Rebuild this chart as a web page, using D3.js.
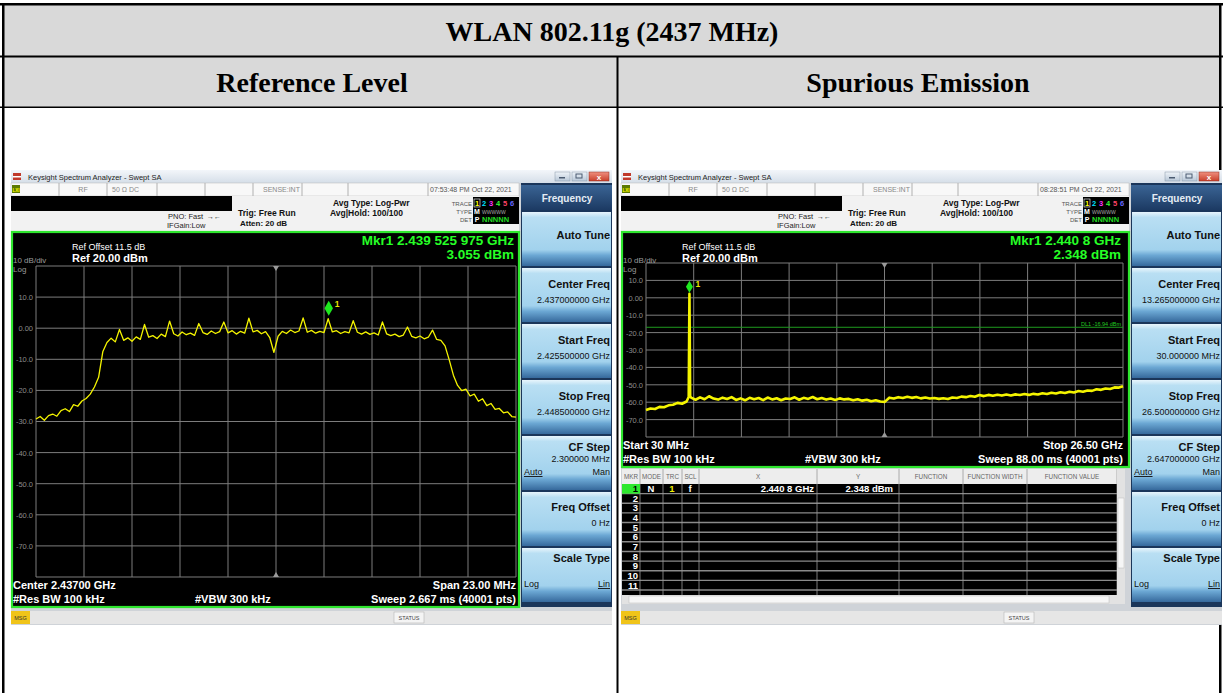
<!DOCTYPE html>
<html>
<head>
<meta charset="utf-8">
<script src="https://cdn.jsdelivr.net/npm/d3@7"></script>
<style>
  body { margin: 0; background: #fff; }
  svg { display: block; font-family: "Liberation Sans", Arial, sans-serif; }
</style>
</head>
<body>
<svg width="1223" height="693"></svg>
<script>
const refStartMHz = 2425.5;
const refStopMHz = 2448.5;
const refStepMHz = 0.2;
const refLevel = [
  -29.2, -28.4, -29.6, -28.1, -27.6, -28.3, -26.5, -25.9, -26.8, -24.6,
  -25.1, -23.4, -22.6, -21.2, -18.9, -15.8, -7.6, -4.6, -3.2, -4.4,
  -0.4, -3.9, -3.1, -4.2, -2.8, -3.6, 1.2, -2.9, -2.4, -3.3,
  -1.9, -2.7, 2.3, -1.8, -2.5, -1.2, -2.1, -1.6, -2.3, 1.5,
  -1.4, -2.0, -0.9, -1.7, -1.1, 2.0, -1.5, -0.8, -1.9, -1.0,
  -1.6, 3.2, -1.2, -0.7, -1.8, -1.1, -3.0, -7.8, -2.6, -1.0,
  -1.7, -0.6, -1.4, -0.9, 3.3, -1.3, -0.7, -1.6, -1.0, -1.4,
  3.05, -1.2, -0.8, -1.7, -1.1, -1.5, 2.4, -1.3, -1.9, -1.2,
  -2.0, -1.5, -2.2, 2.0, -1.8, -2.4, -1.9, -2.7, -2.2, 0.4,
  -2.6, -3.1, -2.5, -3.4, -2.9, -0.6, -3.6, -3.9, -5.7, -10.2,
  -15.1, -18.4, -20.1, -19.6, -21.8, -21.2, -23.5, -22.7, -24.9, -24.2,
  -26.1, -25.8, -27.2, -26.9, -28.4, -28.6
];
const refMarker = { freq: 2439.525975, level: 3.055 };

const spurStartGHz = 0.03;
const spurStopGHz = 26.5;
const spurStepGHz = 0.25;
const spurLevel = [
  -64.5, -63.6, -63.9, -62.7, -62.9, -61.8, -61.5, -60.4, -60.9, -59.6,
  -57.4, -58.6, -57.2, -58.3, -56.6, -57.9, -58.5, -57.4, -58.2, -57.1,
  -58.7, -57.8, -58.9, -57.5, -58.3, -57.6, -58.8, -57.3, -58.4, -57.7,
  -58.9, -57.9, -58.2, -57.2, -58.6, -57.5, -58.1, -57.0, -58.3, -57.6,
  -58.5, -57.9, -58.7, -57.8, -58.4, -58.1, -58.9, -58.3, -59.1, -58.6,
  -59.4, -58.9, -59.6, -59.8, -57.4, -57.9, -57.1, -57.6, -56.9, -57.5,
  -57.0, -57.8, -57.3, -57.9, -57.6, -58.1, -57.7, -58.2, -57.3, -57.6,
  -56.8, -57.1, -56.4, -56.9, -55.9, -56.5, -55.8, -56.3, -55.7, -56.2,
  -55.6, -56.1, -55.5, -55.9, -55.3, -55.8, -55.2, -55.6, -54.9, -55.3,
  -54.6, -55.0, -54.3, -54.7, -54.0, -54.4, -53.6, -54.0, -53.3, -53.5,
  -52.6, -52.9, -52.1, -52.4, -51.5, -51.6, -50.8
];
const spurPeakFreq = [2.40, 2.4408, 2.48];
const spurPeakLevel = [-57.0, 2.348, -56.5];
const spurMarker = { freq: 2.4408, level: 2.348 };
const displayLine = -16.94;

const levelTicks = [10, 0, -10, -20, -30, -40, -50, -60, -70];
const levelLabels = ["10.0", "0.00", "-10.0", "-20.0", "-30.0", "-40.0", "-50.0", "-60.0", "-70.0"];
const markerRows = ["1", "2", "3", "4", "5", "6", "7", "8", "9", "10", "11"];
const markerCols = ["MKR", "MODE", "TRC", "SCL", "X", "Y", "FUNCTION", "FUNCTION WIDTH", "FUNCTION VALUE"];

let svg = d3.select("svg");

// gradients
let defs = svg.append("defs");
function grad(id, stops) {
  let lg = defs.append("linearGradient").attr("id", id).attr("x1", 0).attr("y1", 0).attr("x2", 0).attr("y2", 1);
  stops.forEach(s => lg.append("stop").attr("offset", s[0]).attr("stop-color", s[1]));
}
grad("titleGrad", [[0, "#f3f6fa"], [1, "#d5dee8"]]);
grad("btnGrad", [[0, "#e8f5fc"], [0.1, "#b9dff3"], [0.7, "#a2d2ed"], [0.8, "#6ca8d4"], [1, "#36699c"]]);
grad("hdrGrad", [[0, "#3a6494"], [1, "#1c3a63"]]);
grad("closeGrad", [[0, "#f09080"], [1, "#c8402c"]]);
grad("winBtnGrad", [[0, "#eef3f8"], [1, "#b9c8d8"]]);

function txt(g, x, y, s, size, fill, opt = {}) {
  return g.append("text")
    .attr("x", x).attr("y", y).text(s)
    .attr("font-size", size).attr("fill", fill)
    .attr("font-weight", opt.bold ? "bold" : null)
    .attr("text-anchor", opt.anchor || "start")
    .attr("font-family", opt.family || null)
    .attr("text-decoration", opt.u ? "underline" : null);
}
function box(g, x, y, w, h, fill) {
  return g.append("rect").attr("x", x).attr("y", y).attr("width", w).attr("height", h).attr("fill", fill);
}

// ---- table ----
const headFill = "#d9d9d9";
const serif = "Liberation Serif, Times New Roman, serif";
box(svg, 4, 5, 1216, 51, headFill);
box(svg, 4, 57, 1216, 50, headFill);
[[0, 3, 1223, 2.5], [0, 55.5, 1223, 2], [0, 106.5, 1223, 1.5], [2, 3, 2.5, 690], [1219, 3, 2.5, 690], [616.5, 57, 2, 636]]
  .forEach(r => box(svg, r[0], r[1], r[2], r[3], "#000"));
txt(svg, 612, 41, "WLAN 802.11g (2437 MHz)", 28, "#000", { bold: true, anchor: "middle", family: serif });
txt(svg, 312, 92, "Reference Level", 28, "#000", { bold: true, anchor: "middle", family: serif });
txt(svg, 918, 92, "Spurious Emission", 28, "#000", { bold: true, anchor: "middle", family: serif });

// ---- one analyzer screenshot ----
function drawAnalyzer(ox, cfg) {
  let g = svg.append("g").attr("transform", `translate(${ox},170)`);
  box(g, 0, 0, 601, 455, "#cfd3d8");

  // window title bar
  box(g, 0, 0, 601, 13, "url(#titleGrad)");
  box(g, 2, 3, 8, 7, "#c0392b");
  box(g, 2, 6, 8, 1.5, "#fff");
  txt(g, 17, 9.5, "Keysight Spectrum Analyzer - Swept SA", 7.5, "#222");
  box(g, 544, 2, 15, 9, "url(#winBtnGrad)").attr("stroke", "#8797a8").attr("stroke-width", 0.5);
  box(g, 561, 2, 15, 9, "url(#winBtnGrad)").attr("stroke", "#8797a8").attr("stroke-width", 0.5);
  box(g, 578, 2, 20, 9, "url(#closeGrad)").attr("stroke", "#8a2a1e").attr("stroke-width", 0.5);
  box(g, 548, 7, 6, 1.5, "#4a5a70");
  box(g, 565, 4, 6, 4, "none").attr("stroke", "#4a5a70").attr("stroke-width", 1);
  txt(g, 588, 9.5, "x", 8, "#fff", { bold: true, anchor: "middle" });

  // status row
  box(g, 0, 13, 508, 13, "#f8f8f8").attr("stroke", "#b8b8b8").attr("stroke-width", 0.5);
  [48, 96, 146, 194, 242, 291, 337, 417].forEach(x =>
    g.append("line").attr("x1", x).attr("x2", x).attr("y1", 13).attr("y2", 26).attr("stroke", "#b0b0b0"));
  box(g, 1, 15, 8, 8, "#5d7a00");
  txt(g, 5, 21.5, "LXI", 4.5, "#ff0", { anchor: "middle", bold: true });
  txt(g, 72, 22, "RF", 7, "#888", { anchor: "middle" });
  txt(g, 101, 22, "50 \u03a9   DC", 7, "#888");
  txt(g, 252, 22, "SENSE:INT", 7, "#888");
  txt(g, 419, 22, cfg.time, 7, "#555");

  // info area
  box(g, 0, 26, 508, 36, "#f2f2f2");
  box(g, 0, 26, 221, 15, "#000");
  txt(g, 157, 49, "PNO: Fast", 7.5, "#222");
  txt(g, 196, 49, "\u2192\u2190", 7, "#222");
  txt(g, 156, 58, "IFGain:Low", 7.5, "#222");
  txt(g, 227, 46, "Trig: Free Run", 8.5, "#111", { bold: true });
  txt(g, 229, 56, "Atten: 20 dB", 8, "#111", { bold: true });
  txt(g, 322, 36, "Avg Type: Log-Pwr", 8.5, "#111", { bold: true });
  txt(g, 319, 46, "Avg|Hold: 100/100", 8.5, "#111", { bold: true });
  txt(g, 461, 36, "TRACE", 6, "#555", { anchor: "end" });
  txt(g, 461, 44, "TYPE", 6, "#555", { anchor: "end" });
  txt(g, 461, 52, "DET", 6, "#555", { anchor: "end" });
  box(g, 462, 27, 46, 27, "#000");
  const traceColors = ["#ffff00", "#00e5ff", "#ff33ff", "#33ff33", "#ff4466", "#6666ff"];
  traceColors.forEach((c, i) => txt(g, 466 + i * 7, 36, String(i + 1), 7.5, c, { bold: true, anchor: "middle" }));
  g.append("rect").attr("x", 463).attr("y", 29).attr("width", 6).attr("height", 8).attr("fill", "none").attr("stroke", "#fff").attr("stroke-width", 0.6);
  txt(g, 466, 44, "M", 7, "#fff", { bold: true, anchor: "middle" });
  txt(g, 471, 44, "WWWWW", 5, "#aaa");
  txt(g, 466, 52, "P", 7, "#fff", { bold: true, anchor: "middle" });
  txt(g, 471, 52, "NNNNN", 7.5, "#22dd22", { bold: true });

  // display panel
  box(g, 1, 62, 507, cfg.panelBottom - 62, "#000").attr("stroke", "#2ee62e").attr("stroke-width", 2.2);

  let x = d3.scaleLinear().domain(cfg.domain).range([25, cfg.gridRight]);
  let y = d3.scaleLinear().domain([20, -80]).range([cfg.gridTop, cfg.gridBottom]);
  let plot = g.append("g");

  // graticule
  let xDiv = d3.range(11).map(i => cfg.domain[0] + i * (cfg.domain[1] - cfg.domain[0]) / 10);
  plot.selectAll(".vgrid").data(xDiv).enter().append("line")
    .attr("x1", d => x(d)).attr("x2", d => x(d))
    .attr("y1", y(20)).attr("y2", y(-80))
    .attr("stroke", "#7d7d7d").attr("stroke-width", 1);
  plot.selectAll(".hgrid").data(d3.range(20, -81, -10)).enter().append("line")
    .attr("x1", x(cfg.domain[0])).attr("x2", x(cfg.domain[1]))
    .attr("y1", d => y(d)).attr("y2", d => y(d))
    .attr("stroke", "#7d7d7d").attr("stroke-width", 1);

  let yAxis = d3.axisLeft(y).tickValues(levelTicks)
    .tickFormat((d, i) => levelLabels[i]).tickSize(0).tickPadding(3);
  let ya = plot.append("g").attr("transform", `translate(25,0)`).call(yAxis);
  ya.select(".domain").remove();
  ya.selectAll("text").attr("fill", "#8c8c8c").attr("font-size", 7.5).attr("font-family", "Liberation Sans, Arial, sans-serif");

  // center markers
  let cx = x((cfg.domain[0] + cfg.domain[1]) / 2);
  plot.append("path").attr("d", `M${cx - 3},${y(20)} L${cx + 3},${y(20)} L${cx},${y(20) + 5}Z`).attr("fill", "#9a9a9a");
  plot.append("path").attr("d", `M${cx - 3},${y(-80)} L${cx + 3},${y(-80)} L${cx},${y(-80) - 5}Z`).attr("fill", "#9a9a9a");

  // display line
  if (cfg.dl !== undefined) {
    plot.append("line").attr("x1", 25).attr("x2", cfg.gridRight)
      .attr("y1", y(cfg.dl)).attr("y2", y(cfg.dl)).attr("stroke", "#1f9a1f").attr("stroke-width", 1);
    txt(plot, cfg.gridRight - 2, y(cfg.dl) - 1.5, "DL1 -16.94 dBm", 5.5, "#22c822", { anchor: "end" });
  }

  // trace
  let line = d3.line().x(d => x(d[0])).y(d => y(d[1]));
  plot.append("path").datum(cfg.trace).attr("d", line)
    .attr("fill", "none").attr("stroke", "#f4f400").attr("stroke-width", cfg.traceWidth)
    .attr("stroke-linejoin", "round");

  // marker
  let mx = x(cfg.marker.freq), my = y(cfg.marker.level) - cfg.markerGap;
  let mh = cfg.markerH, mw = cfg.markerW;
  plot.append("path")
    .attr("d", `M${mx},${my - mh} L${mx + mw / 2},${my - mh / 2} L${mx},${my} L${mx - mw / 2},${my - mh / 2}Z`)
    .attr("fill", "#1ee81e");
  txt(plot, mx + 6, my - mh + 6, "1", 8.5, "#e8e800", { bold: true });

  // text in panel
  txt(g, 61, 80, "Ref Offset 11.5 dB", 9, "#fff");
  txt(g, 61, 92, "Ref 20.00 dBm", 11, "#fff", { bold: true });
  txt(g, 2, 92.5, "10 dB/div", 8, "#9a9a9a");
  txt(g, 2, 101.5, "Log", 8, "#9a9a9a");
  txt(g, cfg.gridRight - 2, 75, cfg.mkrFreq, 13.5, "#26ff26", { bold: true, anchor: "end" });
  txt(g, cfg.gridRight - 2, 89, cfg.mkrLevel, 13.5, "#26ff26", { bold: true, anchor: "end" });
  cfg.bottomText.forEach(t => txt(g, t[0], t[1], t[2], 11, "#fff", { bold: true, anchor: t[3] || "start" }));

  // softkeys
  box(g, 510, 13, 91, 424, "#1b365a");
  box(g, 510, 15, 91, 25, "url(#hdrGrad)");
  txt(g, 556, 32, "Frequency", 10, "#e4ecf4", { bold: true, anchor: "middle" });
  cfg.keys.forEach((k, i) => {
    let top = 42 + i * 56;
    box(g, 511, top, 89, 54, "url(#btnGrad)");
    k.lines.forEach(l => txt(g, l[0], top + l[1], l[2], l[3], "#111", { bold: l[4], anchor: l[5] || "end", u: l[6] }));
  });

  // status bar
  box(g, 0, 441, 601, 13, "#e6e6e6");
  box(g, 0, 441, 19, 13, "#f0c419");
  txt(g, 9.5, 450, "MSG", 5.5, "#333", { anchor: "middle" });
  box(g, 383, 442, 30, 11, "#f4f4f4").attr("stroke", "#aaa").attr("stroke-width", 0.5);
  txt(g, 398, 450, "STATUS", 5.5, "#444", { anchor: "middle" });
  return g;
}

function freqKeys(center, start, stop, step) {
  return [
    { lines: [[599, 27, "Auto Tune", 11, true]] },
    { lines: [[599, 20, "Center Freq", 11, true], [599, 35, center, 9, false]] },
    { lines: [[599, 20, "Start Freq", 11, true], [599, 35, start, 9, false]] },
    { lines: [[599, 20, "Stop Freq", 11, true], [599, 35, stop, 9, false]] },
    { lines: [[599, 15, "CF Step", 11, true], [599, 26, step, 9, false], [513, 39, "Auto", 9, false, "start", true], [599, 39, "Man", 9, false]] },
    { lines: [[599, 19, "Freq Offset", 11, true], [599, 34, "0 Hz", 9, false]] },
    { lines: [[599, 14, "Scale Type", 11, true], [513, 39, "Log", 9, false, "start"], [599, 39, "Lin", 9, false, "end", true]] }
  ];
}

// left: reference level
let refTrace = refLevel.map((v, i) => [refStartMHz + i * refStepMHz, v]);
drawAnalyzer(11, {
  time: "07:53:48 PM Oct 22, 2021",
  panelBottom: 437,
  domain: [refStartMHz, refStopMHz],
  gridRight: 505, gridTop: 96, gridBottom: 407,
  trace: refTrace, traceWidth: 1.3,
  marker: refMarker, markerGap: 3, markerH: 15, markerW: 8.5,
  mkrFreq: "Mkr1 2.439 525 975 GHz", mkrLevel: "3.055 dBm",
  bottomText: [
    [2, 419, "Center 2.43700 GHz"], [2, 433, "#Res BW 100 kHz"], [184, 433, "#VBW 300 kHz"],
    [505, 419, "Span 23.00 MHz", "end"], [505, 433, "Sweep  2.667 ms (40001 pts)", "end"]
  ],
  keys: freqKeys("2.437000000 GHz", "2.425500000 GHz", "2.448500000 GHz", "2.300000 MHz")
});

// right: spurious emission
let spurTrace = spurLevel.map((v, i) => [Math.min(spurStartGHz + i * spurStepGHz, spurStopGHz), v]);
spurPeakFreq.forEach((f, i) => spurTrace.push([f, spurPeakLevel[i]]));
spurTrace.sort((a, b) => a[0] - b[0]);
let right = drawAnalyzer(621, {
  time: "08:28:51 PM Oct 22, 2021",
  panelBottom: 297,
  domain: [spurStartGHz, spurStopGHz],
  gridRight: 502, gridTop: 93, gridBottom: 267,
  trace: spurTrace, traceWidth: 2.6,
  marker: spurMarker, markerGap: 1, markerH: 12, markerW: 7,
  dl: displayLine,
  mkrFreq: "Mkr1 2.440 8 GHz", mkrLevel: "2.348 dBm",
  bottomText: [
    [2, 279, "Start 30 MHz"], [2, 293, "#Res BW 100 kHz"], [184, 293, "#VBW 300 kHz"],
    [502, 279, "Stop 26.50 GHz", "end"], [502, 293, "Sweep  88.00 ms (40001 pts)", "end"]
  ],
  keys: freqKeys("13.265000000 GHz", "30.000000 MHz", "26.500000000 GHz", "2.647000000 GHz")
});

// marker table on the spurious screen
(function () {
  let t = right.append("g");
  const colX = [1, 19, 42, 61, 78, 196, 278, 342, 406, 496];
  box(t, 1, 299, 503, 135, "#000");
  box(t, 1, 299, 495, 15, "#ededed");
  markerCols.forEach((c, i) => {
    let mid = (colX[i] + colX[i + 1]) / 2;
    txt(t, mid, 309, c, 6.3, "#666", { anchor: "middle" });
  });
  let rowY = d3.scaleBand().domain(markerRows).range([314, 420]);
  t.selectAll(".mrow").data(markerRows).enter().append("line")
    .attr("x1", 1).attr("x2", 496)
    .attr("y1", d => rowY(d) + rowY.bandwidth()).attr("y2", d => rowY(d) + rowY.bandwidth())
    .attr("stroke", "#8a8a8a").attr("stroke-width", 1.4);
  colX.slice(1).forEach(x => t.append("line").attr("x1", x).attr("x2", x).attr("y1", 299).attr("y2", 425)
    .attr("stroke", "#9a9a9a").attr("stroke-width", 0.8));
  box(t, 1, rowY("1"), 18, rowY.bandwidth(), "#2ee82e");
  markerRows.forEach(r => txt(t, 17, rowY(r) + rowY.bandwidth() - 1.5, r, 9.5, r === "1" ? "#000" : "#fff", { bold: true, anchor: "end" }));
  let r1 = rowY("1") + rowY.bandwidth() - 1.5;
  txt(t, 30, r1, "N", 9.5, "#fff", { bold: true, anchor: "middle" });
  txt(t, 51, r1, "1", 9.5, "#f0f000", { bold: true, anchor: "middle" });
  txt(t, 69, r1, "f", 9.5, "#fff", { bold: true, anchor: "middle" });
  txt(t, 193, r1, "2.440 8 GHz", 9.5, "#fff", { bold: true, anchor: "end" });
  txt(t, 272, r1, "2.348 dBm", 9.5, "#fff", { bold: true, anchor: "end" });
  box(t, 496, 299, 8, 126, "#e2e2e2");
  box(t, 497, 328, 6, 70, "#f6f6f6").attr("stroke", "#bbb").attr("stroke-width", 0.5);
  box(t, 1, 425, 503, 9, "#e2e2e2");
  box(t, 8, 426, 480, 7, "#f6f6f6").attr("stroke", "#bbb").attr("stroke-width", 0.5);
})();
</script>
</body>
</html>
